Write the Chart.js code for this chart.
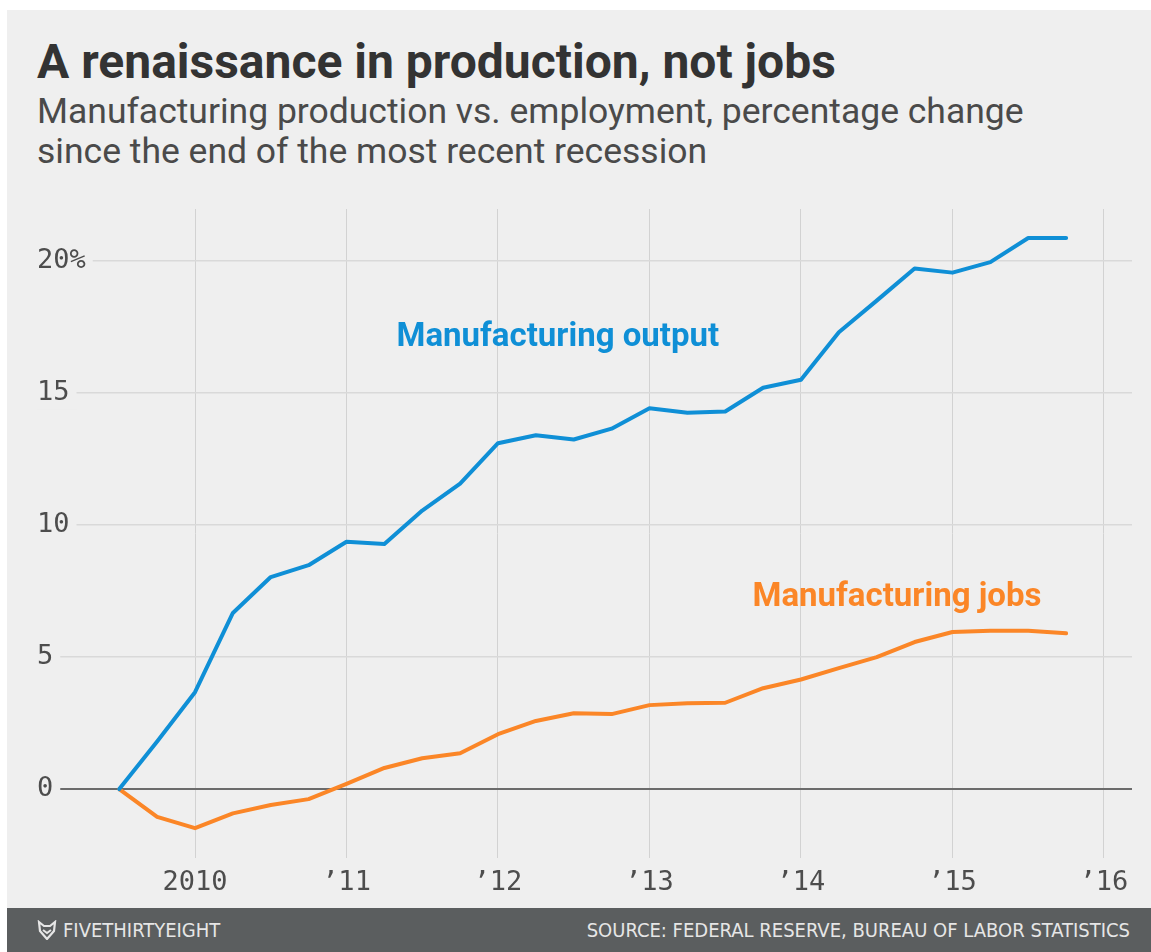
<!DOCTYPE html>
<html>
<head>
<meta charset="utf-8">
<script src="https://cdn.jsdelivr.net/npm/chart.js@4.4.1/dist/chart.umd.min.js"></script>
<style>
  html, body { margin: 0; padding: 0; background: #fff; }
  body { width: 1151px; height: 952px; position: relative; overflow: hidden; font-family: Roboto, "Noto Sans", sans-serif; }
  #panel { position: absolute; left: 7px; top: 10px; right: 0; bottom: 0; background: #efefef; }
  #title { position: absolute; left: 37px; top: 38px; margin: 0; font-size: 48px; line-height: 48px; font-weight: 700; color: #333; white-space: nowrap; }
  #subtitle { position: absolute; left: 37px; top: 91px; margin: 0; font-size: 35.5px; font-weight: 400; color: #4a4a4a; line-height: 40px; white-space: nowrap; }
  #chartBox { position: absolute; left: 0; top: 190px; width: 1151px; height: 718px; }
  #footer { position: absolute; left: 7px; top: 908px; right: 0; height: 44px; background: #5b5e5f; color: #e6e6e6;
            font-family: "DejaVu Sans Condensed", "DejaVu Sans", sans-serif; font-stretch: condensed; font-size: 20px; }
  #brand { position: absolute; left: 30px; top: 10px; white-space: nowrap; }
  #brand svg { vertical-align: -3px; margin-right: 6px; }
  #source { position: absolute; right: 21px; top: 10px; white-space: nowrap; }
</style>
</head>
<body>
<div id="panel"></div>
<h1 id="title">A renaissance in production, not jobs</h1>
<p id="subtitle">Manufacturing production vs. employment, percentage change<br>since the end of the most recent recession</p>
<div id="chartBox"><canvas id="myChart"></canvas></div>
<div id="footer">
  <span id="brand"><svg width="20" height="20" viewBox="0 0 20 20"><path d="M2 2 L7 6 L13 6 L18 2 L17 11 L10 19 L3 11 Z" fill="none" stroke="#e6e6e6" stroke-width="2.2"/><path d="M6 10 L10 13 L14 10" fill="none" stroke="#e6e6e6" stroke-width="2"/></svg>FIVETHIRTYEIGHT</span>
  <span id="source">SOURCE: FEDERAL RESERVE, BUREAU OF LABOR STATISTICS</span>
</div>

<script>
// quarter ends, starting at the end of the recession (June 2009)
const quarters = [
  "2009-06", "2009-09", "2009-12", "2010-03", "2010-06", "2010-09", "2010-12",
  "2011-03", "2011-06", "2011-09", "2011-12", "2012-03", "2012-06", "2012-09",
  "2012-12", "2013-03", "2013-06", "2013-09", "2013-12", "2014-03", "2014-06",
  "2014-09", "2014-12", "2015-03", "2015-06", "2015-09"
];
const outputChange = [
  0, 1.8, 3.67, 6.67, 8.03, 8.48, 9.37, 9.28, 10.55, 11.57, 13.1, 13.4, 13.24,
  13.65, 14.42, 14.25, 14.3, 15.2, 15.5, 17.3, 18.5, 19.72, 19.56, 19.96, 20.87, 20.87
];
const jobsChange = [
  0, -1.05, -1.48, -0.92, -0.6, -0.38, 0.2, 0.8, 1.17, 1.36, 2.08, 2.58, 2.87,
  2.84, 3.18, 3.25, 3.27, 3.82, 4.15, 4.58, 5.0, 5.57, 5.95, 6.0, 6.0, 5.9
];
const yearTicks = [2010, 2011, 2012, 2013, 2014, 2015, 2016];
const yearLabels = ["2010", "\u201911", "\u201912", "\u201913", "\u201914", "\u201915", "\u201916"];
const valueTicks = [0, 5, 10, 15, 20];

const BLUE = "#0f8fd6";
const ORANGE = "#fb8627";

// "2009-12" -> 2010.0 (end of quarter as decimal year)
function toYear(q) {
  const [y, m] = q.split("-").map(Number);
  return y + m / 12;
}

const outputPoints = quarters.map((q, i) => ({ x: toYear(q), y: outputChange[i] }));
const jobsPoints = quarters.map((q, i) => ({ x: toYear(q), y: jobsChange[i] }));

// series names written next to the lines
const seriesLabels = {
  id: "seriesLabels",
  afterDatasetsDraw(chart) {
    const { ctx, scales } = chart;
    ctx.save();
    ctx.font = "700 33px Roboto, 'Noto Sans', sans-serif";
    ctx.textBaseline = "middle";
    ctx.textAlign = "left";
    ctx.fillStyle = BLUE;
    ctx.fillText("Manufacturing output", scales.x.getPixelForValue(2011.33), scales.y.getPixelForValue(17.08));
    ctx.fillStyle = ORANGE;
    ctx.fillText("Manufacturing jobs", scales.x.getPixelForValue(2013.68), scales.y.getPixelForValue(7.23));
    ctx.restore();
  }
};

const config = {
  type: "line",
  data: {
    datasets: [
      {
        label: "Manufacturing output",
        data: outputPoints,
        borderColor: BLUE,
        borderWidth: 4,
        pointRadius: 0,
        tension: 0,
        borderCapStyle: "round",
        borderJoinStyle: "round",
      },
      {
        label: "Manufacturing jobs",
        data: jobsPoints,
        borderColor: ORANGE,
        borderWidth: 4,
        pointRadius: 0,
        tension: 0,
        borderCapStyle: "round",
        borderJoinStyle: "round",
      },
    ],
  },
  options: {
    responsive: true,
    maintainAspectRatio: false,
    animation: false,
    layout: { padding: { left: 37, right: 19, top: 19, bottom: 0 } },
    scales: {
      x: {
        type: "linear",
        min: 2008.957,
        max: 2016.185,
        afterBuildTicks: (scale) => {
          scale.ticks = yearTicks.map((v) => ({ value: v }));
        },
        afterFit: (scale) => {
          scale.height = 50;
        },
        ticks: {
          padding: 9,
          color: "#4d4d4d",
          font: { family: "'DejaVu Sans Mono', monospace", size: 27 },
          maxRotation: 0,
          callback: (v) => yearLabels[yearTicks.indexOf(v)],
        },
        grid: { color: "#d2d2d2", lineWidth: 1, drawTicks: false },
        border: { display: false },
      },
      y: {
        min: -2.61,
        max: 21.97,
        afterBuildTicks: (scale) => {
          scale.ticks = valueTicks.map((v) => ({ value: v }));
        },
        afterFit: (scale) => {
          scale.width = 0;
        },
        ticks: {
          mirror: true,
          padding: 0,
          color: "#4d4d4d",
          font: { family: "'DejaVu Sans Mono', monospace", size: 27 },
          showLabelBackdrop: true,
          backdropColor: "#efefef",
          backdropPadding: { left: 0, right: 7, top: 0, bottom: 0 },
          callback: (v) => (v === 20 ? "20%" : String(v)),
        },
        grid: {
          drawTicks: false,
          color: (ctx) => (ctx.tick && ctx.tick.value === 0 ? "#6b6b6b" : "#d9d9d9"),
          lineWidth: (ctx) => (ctx.tick && ctx.tick.value === 0 ? 2 : 1.5),
        },
        border: { display: false },
      },
    },
    plugins: {
      legend: { display: false },
      tooltip: { enabled: false },
    },
  },
  plugins: [seriesLabels],
};

const myChart = new Chart(document.getElementById("myChart"), config);
</script>
</body>
</html>
